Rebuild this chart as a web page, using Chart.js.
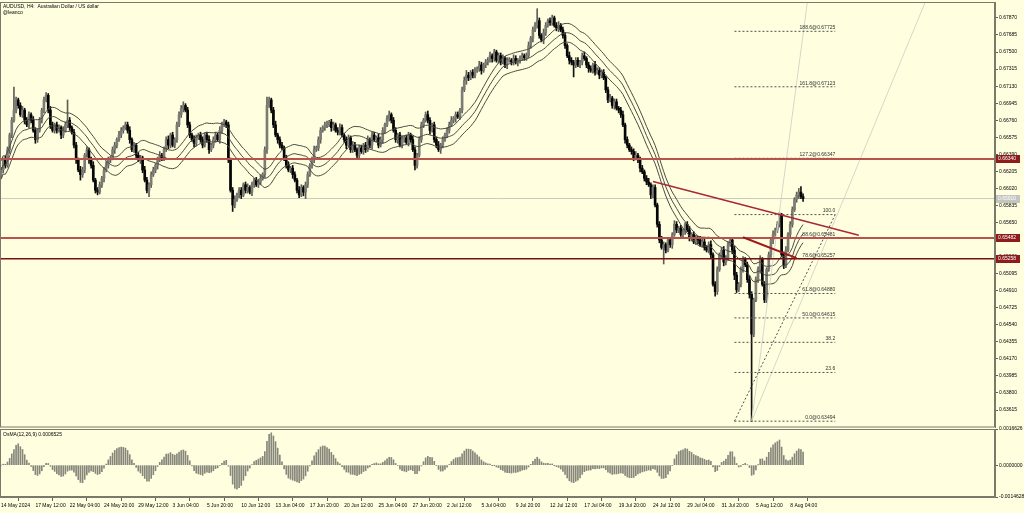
<!DOCTYPE html>
<html lang="en">
<head>
  <meta charset="UTF-8">
  <title>AUDUSD, H4</title>
  <style>
    body {
      margin: 0;
      width: 1024px;
      height: 513px;
      overflow: hidden;
      position: relative;
      background-color: #ffffe0;
    }
    .panel { position: absolute; left: 0; }
    #mainWrap { top: 0; }
    #oscWrap { top: 425px; }
  </style>
  <script src="https://cdn.jsdelivr.net/npm/chart.js"></script>
</head>
<body>
  <div class="panel" id="mainWrap"><canvas id="main" width="1024" height="428"></canvas></div>
  <div class="panel" id="oscWrap"><canvas id="osc" width="1024" height="88"></canvas></div>

  <script>
    // H4 candles, in pips (6622 = 0.6622); open = previous close
    const firstOpen = 6615;
    const closes = [
      6622,6633,6627,6644,6660,6676,6687,6698,6692,6682,6687,6676,6671,6682,6676,6665,6655,6665,6676,6687,6698,6703,6687,6671,6665,
      6671,6665,6668,6660,6665,6671,6676,6668,6663,6649,6633,6622,6617,6622,6638,6644,6633,6627,6611,6600,6598,6606,6613,6622,6627,
      6633,6635,6644,6649,6655,6660,6665,6668,6671,6665,6655,6644,6649,6638,6633,6635,6622,6611,6600,6606,6617,6622,6627,6633,6638,
      6635,6644,6655,6649,6660,6649,6655,6671,6682,6689,6692,6687,6671,6660,6655,6651,6657,6660,6655,6649,6660,6655,6644,6649,6655,
      6660,6655,6665,6671,6674,6671,6633,6600,6584,6590,6595,6600,6595,6606,6600,6603,6598,6606,6611,6606,6609,6613,6617,6644,6692,
      6698,6687,6671,6660,6655,6649,6646,6635,6627,6622,6624,6617,6611,6600,6595,6603,6598,6606,6617,6627,6633,6644,6646,6655,6665,
      6668,6671,6671,6674,6668,6671,6665,6663,6668,6660,6655,6649,6657,6644,6649,6644,6638,6646,6642,6649,6644,6655,6649,6660,6655,
      6657,6649,6655,6665,6671,6678,6682,6676,6665,6655,6660,6649,6655,6657,6652,6660,6655,6644,6627,6638,6655,6671,6676,6682,6676,
      6665,6671,6655,6649,6644,6649,6655,6660,6665,6671,6676,6678,6682,6680,6687,6709,6719,6725,6722,6728,6725,6730,6732,6736,6730,
      6736,6739,6741,6746,6743,6750,6741,6746,6739,6743,6736,6741,6741,6739,6743,6739,6741,6743,6746,6744,6746,6757,6765,6774,6779,
      6784,6768,6763,6771,6779,6784,6782,6787,6779,6776,6779,6774,6768,6757,6746,6741,6739,6736,6741,6736,6739,6746,6743,6736,6732,
      6730,6736,6728,6730,6725,6728,6722,6709,6698,6700,6692,6696,6689,6687,6682,6671,6655,6649,6644,6642,6635,6638,6633,6624,6620,
      6613,6609,6606,6595,6603,6584,6563,6546,6538,6541,6535,6546,6541,6552,6563,6557,6559,6552,6555,6563,6557,6548,6552,6544,6548,
      6546,6541,6544,6538,6535,6541,6530,6498,6490,6514,6530,6535,6522,6527,6541,6546,6535,6508,6492,6498,6514,6525,6519,6503,6487,
      6444,6481,6503,6514,6525,6498,6481,6514,6530,6546,6552,6557,6563,6573,6530,6519,6535,6552,6563,6579,6590,6595,6598,6593,6591
    ];
    // wick lengths above / below the body, in pips
    const upWick = [
      3,2,4,3,2,3,25,3,2,3,4,2,3,3,2,4,3,2,3,2,3,3,2,4,3,
      2,3,3,2,4,3,22,3,2,3,3,2,4,3,2,3,2,3,4,2,3,3,2,3,4,
      3,2,3,3,2,4,3,2,3,3,4,2,3,2,3,3,2,4,3,2,3,3,2,3,4,
      2,3,3,4,2,3,2,3,3,3,4,2,3,3,2,4,3,2,3,3,2,3,4,2,3,
      3,2,4,3,3,2,3,2,3,4,2,3,3,2,3,4,2,3,2,3,3,4,2,3,9,
      3,2,3,4,2,3,3,2,3,4,2,3,3,2,4,3,2,3,3,2,3,4,2,3,3,
      2,3,4,2,3,3,2,3,4,3,2,3,3,2,4,3,2,3,3,2,3,4,2,3,3,
      2,4,3,3,2,3,4,2,3,3,2,3,4,2,3,3,2,4,3,2,3,3,2,3,4,
      3,2,3,3,4,2,3,2,3,3,4,2,3,3,2,3,4,5,3,2,3,3,2,4,3,
      2,3,3,4,2,3,2,3,3,4,2,3,3,2,4,3,2,3,3,2,3,4,2,3,3,
      13,3,2,4,3,2,3,3,2,3,4,2,3,3,2,4,3,2,3,3,2,3,4,2,3,
      3,2,4,3,3,2,3,2,3,4,2,3,3,2,3,4,2,3,2,3,3,4,2,3,3,
      2,3,4,2,3,3,2,3,4,3,2,3,3,2,4,3,2,3,3,2,3,4,2,3,3,
      2,4,3,3,2,3,4,2,3,3,2,3,4,2,3,3,2,4,3,2,3,3,2,3,4,
      3,2,3,3,4,2,3,2,3,3,4,2,3,3,2,3,4,2,3,3,2,3,4,6,3
    ];
    const dnWick = [
      2,3,3,2,4,3,2,3,3,2,3,4,2,3,3,2,4,3,2,3,3,2,3,4,2,
      3,3,2,4,3,2,3,3,2,3,4,2,6,3,3,2,4,3,2,3,3,2,3,4,2,
      3,3,2,4,3,2,3,3,2,3,4,2,3,3,2,4,3,2,3,7,3,2,3,4,2,
      3,3,2,4,3,2,3,3,2,3,4,2,3,3,2,4,3,2,3,3,2,3,4,2,3,
      3,2,4,3,2,3,3,2,7,3,2,3,4,2,3,3,2,4,3,2,3,3,2,3,4,
      2,3,3,2,4,3,2,3,3,2,3,4,2,3,3,2,4,7,3,2,3,3,2,3,4,
      2,3,3,2,4,3,2,3,3,2,3,4,2,3,3,2,4,3,2,3,3,2,3,4,2,
      3,3,2,4,3,2,3,3,2,3,4,2,3,3,2,4,3,2,5,3,2,3,3,2,3,
      4,2,3,3,2,4,3,2,3,3,2,3,4,2,3,3,2,4,3,2,3,3,2,3,4,
      2,3,3,2,4,3,2,3,3,2,3,4,2,3,3,2,4,3,2,3,3,2,3,4,2,
      3,3,2,4,3,2,3,3,2,3,4,2,3,3,2,4,3,13,3,2,3,3,2,3,4,
      2,3,3,2,4,3,2,3,3,2,3,4,2,3,3,2,4,3,2,3,3,2,3,4,2,
      3,3,2,4,3,2,3,3,2,18,3,2,3,4,2,3,3,2,4,3,2,3,3,2,3,
      4,2,3,3,2,3,4,2,5,3,2,3,4,3,3,2,4,5,3,2,3,3,2,3,4,
      95,3,2,3,4,2,3,3,2,3,4,2,3,3,2,4,3,2,3,3,2,3,4,2,3
    ];
    // one time label every 16 bars
    const timeLabels = ['14 May 2024', '17 May 12:00', '22 May 04:00', '24 May 20:00', '29 May 12:00',
      '3 Jun 04:00', '5 Jun 20:00', '10 Jun 12:00', '13 Jun 04:00', '17 Jun 20:00', '20 Jun 12:00',
      '25 Jun 04:00', '27 Jun 20:00', '2 Jul 12:00', '5 Jul 04:00', '9 Jul 20:00', '12 Jul 12:00',
      '17 Jul 04:00', '19 Jul 20:00', '24 Jul 12:00', '29 Jul 04:00', '31 Jul 20:00', '5 Aug 12:00', '8 Aug 04:00'];
    const priceTicks = [0.67870, 0.67685, 0.67500, 0.67315, 0.67130, 0.66945, 0.66760, 0.66575,
      0.66390, 0.66205, 0.66020, 0.65835, 0.65650, 0.65465, 0.65280, 0.65095, 0.64910, 0.64725,
      0.64540, 0.64355, 0.64170, 0.63985, 0.63800, 0.63615];
    const oscTicks = [0.0016626, 0, -0.0014628];
    const hLines = [0.66340, 0.65482, 0.65258];
    // fibonacci tool
    const fibPrices = [0.67725, 0.67123, 0.66347, 0.65736, 0.65481, 0.65257, 0.64880, 0.64615, 0.64350, 0.64023, 0.63494];
    const fibTexts = ['188.6@0.67725', '161.8@0.67123', '127.2@0.66347', '100.0', '88.6@0.65481', '78.6@0.65257',
      '61.8@0.64880', '50.0@0.64615', '38.2', '23.6', '0.0@0.63494'];
    const fibBars = [342, 389];
    const fibBase = [{ x: 342, y: 0.63494 }, { x: 389, y: 0.65736 }];
    const trendA = [{ x: 304, y: 0.66096 }, { x: 400, y: 0.65511 }];
    const trendB = [{ x: 346, y: 0.65490 }, { x: 371, y: 0.65263 }];
    const fanLines = [
      [{ x: 350, y: 0.63494 }, { x: 376, y: 0.68043 }],
      [{ x: 350, y: 0.63494 }, { x: 431, y: 0.68043 }]
    ];

    const X_MIN = -0.5, X_MAX = 463.5;
    const Y_MIN = 0.63431, Y_MAX = 0.68043;
    const FONT = 'Liberation Sans, Arial, sans-serif';

    const pip = v => v / 10000;
    const opens = closes.map((c, i) => (i === 0 ? firstOpen : closes[i - 1]));
    const isUp = closes.map((c, i) => c >= opens[i]);
    const bodies = closes.map((c, i) => ({ x: i, y: [pip(opens[i]), pip(c)] }));
    const wicks = closes.map((c, i) => ({
      x: i,
      y: [pip(Math.min(opens[i], c) - dnWick[i]), pip(Math.max(opens[i], c) + upWick[i])]
    }));
    const cl = closes.map(pip);
    const lastClose = cl[cl.length - 1];

    function sma(arr, n) {
      return arr.map((_, i) => {
        const s = arr.slice(Math.max(0, i - n + 1), i + 1);
        return s.reduce((a, b) => a + b, 0) / s.length;
      });
    }
    function ema(arr, n) {
      const k = 2 / (n + 1);
      let prev = arr[0];
      return arr.map((v, i) => (prev = i === 0 ? v : prev + k * (v - prev)));
    }

    // moving average with envelopes
    const maMid = sma(cl, 20);
    const envPct = 0.0015;
    const toPts = arr => arr.map((v, i) => ({ x: i, y: v }));

    // OsMA(12,26,9)
    const ema12 = ema(cl, 12), ema26 = ema(cl, 26);
    const macd = ema12.map((v, i) => v - ema26[i]);
    const signal = sma(macd, 9);
    const osma = macd.map((v, i) => v - signal[i]);

    const lineDs = (pts, color, width, order, dash) => ({
      type: 'line', data: pts, borderColor: color, borderWidth: width,
      borderDash: dash || [], pointRadius: 0, fill: false, tension: 0, order
    });

    const datasets = [
      lineDs([{ x: X_MIN, y: lastClose }, { x: X_MAX, y: lastClose }], '#c9c9bd', 1, 9),
      { type: 'bar', data: wicks, backgroundColor: isUp.map(u => (u ? '#5e5e58' : '#111111')),
        barThickness: 1, maxBarThickness: 1, grouped: false, order: 8 },
      { type: 'bar', data: bodies, backgroundColor: isUp.map(u => (u ? '#7c7c74' : '#050505')),
        borderColor: isUp.map(u => (u ? '#55554f' : '#050505')), borderWidth: 0,
        barThickness: 2, maxBarThickness: 2, grouped: false, minBarLength: 1, order: 7 },
      lineDs(toPts(maMid.map(v => v * (1 + envPct))), '#4a4a42', 1, 6),
      lineDs(toPts(maMid), '#4a4a42', 1, 6),
      lineDs(toPts(maMid.map(v => v * (1 - envPct))), '#4a4a42', 1, 6),
      ...fanLines.map(f => lineDs(f, '#d6d6ca', 1, 5)),
      lineDs(fibBase, '#505050', 1, 4, [2, 2]),
      ...fibPrices.map(p => lineDs([{ x: fibBars[0], y: p }, { x: fibBars[1], y: p }], '#505050', 1, 4, [2, 2])),
      lineDs([{ x: X_MIN, y: hLines[0] }, { x: X_MAX, y: hLines[0] }], '#b9524c', 2, 2),
      lineDs([{ x: X_MIN, y: hLines[1] }, { x: X_MAX, y: hLines[1] }], '#b9524c', 2, 2),
      lineDs([{ x: X_MIN, y: hLines[2] }, { x: X_MAX, y: hLines[2] }], '#7a1010', 1.5, 2),
      lineDs(trendA, '#a8283a', 1.5, 1),
      lineDs(trendB, '#a01818', 2, 1)
    ];

    function axisBox(ctx, area, y, text, bg) {
      ctx.fillStyle = bg;
      ctx.fillRect(area.right + 1, Math.round(y) - 4, 24, 8);
      ctx.fillStyle = '#ffffff';
      ctx.font = '5px ' + FONT;
      ctx.textAlign = 'left';
      ctx.textBaseline = 'middle';
      ctx.fillText(text, area.right + 3, Math.round(y));
    }

    const mainOverlay = {
      id: 'mainOverlay',
      afterDraw(chart) {
        const { ctx, chartArea: a, scales } = chart;
        const X = v => scales.x.getPixelForValue(v);
        const Y = v => scales.y.getPixelForValue(v);
        ctx.save();
        // fibonacci level texts
        ctx.font = '5px ' + FONT;
        ctx.fillStyle = '#303030';
        ctx.textAlign = 'right';
        ctx.textBaseline = 'bottom';
        fibPrices.forEach((p, i) => ctx.fillText(fibTexts[i], X(fibBars[1]), Y(p) - 1));
        // panel frame
        ctx.strokeStyle = '#7a7a6c';
        ctx.lineWidth = 1;
        ctx.strokeRect(a.left + 0.5, a.top + 0.5, a.right - a.left - 1, a.bottom - a.top - 0.5);
        // price boxes on the right axis
        axisBox(ctx, a, Y(lastClose), lastClose.toFixed(5), '#c4c4c0');
        hLines.forEach(p => axisBox(ctx, a, Y(p), p.toFixed(5), '#8e1c1c'));
        // title
        ctx.fillStyle = '#000000';
        ctx.textAlign = 'left';
        ctx.textBaseline = 'top';
        ctx.font = '5px ' + FONT;
        ctx.fillText('AUDUSD, H4:  Australian Dollar / US dollar', 3, 4);
        ctx.fillText('@leanco', 3, 10);
        ctx.restore();
      }
    };

    const oscOverlay = {
      id: 'oscOverlay',
      afterDraw(chart) {
        const { ctx, chartArea: a } = chart;
        ctx.save();
        ctx.strokeStyle = '#7a7a6c';
        ctx.lineWidth = 1;
        ctx.strokeRect(a.left + 0.5, a.top + 0.5, a.right - a.left - 1, a.bottom - a.top - 1);
        ctx.fillStyle = '#000000';
        ctx.font = '5px ' + FONT;
        ctx.textAlign = 'left';
        ctx.textBaseline = 'top';
        ctx.fillText('OsMA(12,26,9) 0.0006525', 3, a.top + 3);
        ctx.restore();
      }
    };

    const rightAxis = (min, max, ticks, digits) => ({
      position: 'right', min, max, beginAtZero: false,
      afterBuildTicks: s => { s.ticks = ticks.map(v => ({ value: v })); },
      afterFit: s => { s.width = 29; s.paddingTop = 0; s.paddingBottom = 0; },
      ticks: { font: { size: 5, family: FONT }, color: '#000000', padding: 1,
        autoSkip: false, callback: v => v.toFixed(digits) },
      grid: { drawOnChartArea: false, tickLength: 3, color: '#606058' },
      border: { color: '#7a7a6c', width: 1 }
    });

    new Chart(document.getElementById('main'), {
      type: 'bar',
      data: { datasets },
      options: {
        responsive: false,
        animation: false,
        events: [],
        layout: { padding: { top: 2, bottom: 1, left: 0, right: 0 } },
        plugins: { legend: { display: false }, tooltip: { enabled: false } },
        scales: {
          x: { type: 'linear', min: X_MIN, max: X_MAX, offset: false, display: false },
          y: rightAxis(Y_MIN, Y_MAX, priceTicks, 5)
        }
      },
      plugins: [mainOverlay]
    });

    new Chart(document.getElementById('osc'), {
      type: 'bar',
      data: {
        datasets: [{ data: toPts(osma), backgroundColor: '#86867a', barThickness: 1, maxBarThickness: 1 }]
      },
      options: {
        responsive: false,
        animation: false,
        events: [],
        layout: { padding: { top: 4, bottom: 0, left: 0, right: 0 } },
        plugins: { legend: { display: false }, tooltip: { enabled: false } },
        scales: {
          x: {
            type: 'linear', min: X_MIN, max: X_MAX, offset: false,
            afterBuildTicks: s => { s.ticks = timeLabels.map((t, k) => ({ value: k * 16 })); },
            afterFit: s => { s.height = 16; s.paddingLeft = 0; s.paddingRight = 0; },
            ticks: { font: { size: 5, family: FONT }, color: '#000000', align: 'start', autoSkip: false,
              maxRotation: 0, padding: 2, callback: (v, k) => timeLabels[k] },
            grid: { drawOnChartArea: false, tickLength: 4, color: '#606058' },
            border: { color: '#7a7a6c', width: 1 }
          },
          y: rightAxis(-0.0014628, 0.0016626, oscTicks, 7)
        }
      },
      plugins: [oscOverlay]
    });
  </script>
</body>
</html>
